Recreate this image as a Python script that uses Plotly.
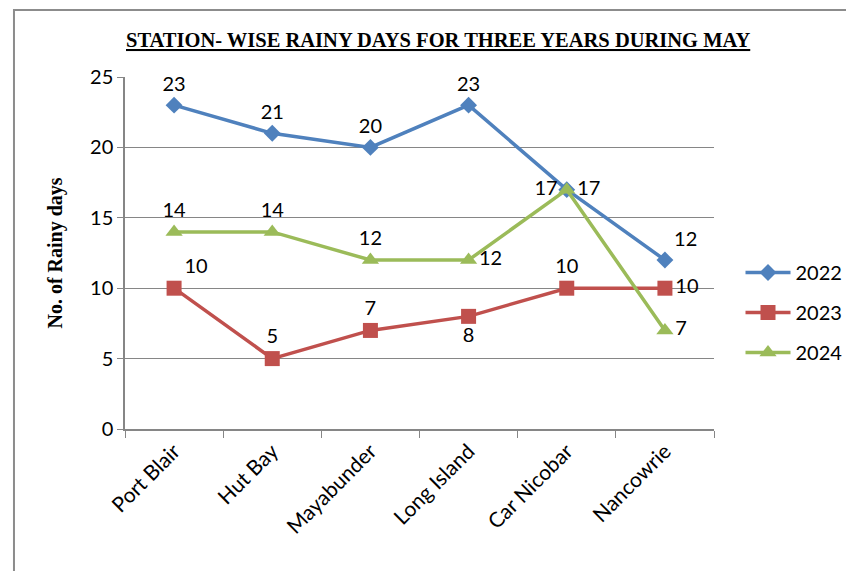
import plotly.graph_objects as go

stations = ["Port Blair", "Hut Bay", "Mayabunder", "Long Island", "Car Nicobar", "Nancowrie"]
years = ["2022", "2023", "2024"]
days_2022 = [23, 21, 20, 23, 17, 12]
days_2023 = [10, 5, 7, 8, 10, 10]
days_2024 = [14, 14, 12, 12, 17, 7]

pos_2022 = ["top center", "top center", "top center", "top center", "middle left", "top right"]
pos_2023 = ["top right", "top center", "top center", "bottom center", "top center", "middle right"]
pos_2024 = ["top center", "top center", "top center", "middle right", "middle right", "middle right"]

colors = ["#4F81BD", "#C0504D", "#9BBB59"]
symbols = ["diamond", "square", "triangle-up"]
sizes = [13, 15, 15]

SANS = "Lato"
SERIF = "Liberation Serif"

fig = go.Figure()
for name, vals, pos, col, sym, sz in zip(
    years, [days_2022, days_2023, days_2024], [pos_2022, pos_2023, pos_2024],
    colors, symbols, sizes
):
    fig.add_trace(go.Scatter(
        x=stations, y=vals, name=name, legendgroup=name,
        mode="lines+markers+text",
        text=[str(v) for v in vals], textposition=pos,
        textfont=dict(family=SANS, size=20, color="#000000"),
        line=dict(color=col, width=3.5),
        marker=dict(symbol=sym, size=sz, color=col),
        cliponaxis=False,
    ))

fig.update_layout(
    width=846, height=571,
    margin=dict(l=125, r=132, t=77, b=142, autoexpand=False),
    paper_bgcolor="white", plot_bgcolor="white",
    showlegend=True,
    legend=dict(
        x=1.045, y=0.50, xanchor="left", yanchor="top",
        font=dict(family=SANS, size=20, color="#000000"),
        tracegroupgap=11, itemwidth=45, bgcolor="rgba(0,0,0,0)",
    ),
    xaxis=dict(
        type="category", tickangle=-45, automargin=False,
        tickfont=dict(family=SANS, size=21, color="#000000"),
        showgrid=False, showline=True, linecolor="#868686", linewidth=1.5,
        ticks="outside", tickson="boundaries", ticklen=7, tickcolor="#868686",
        range=[-0.5, 5.5],
    ),
    yaxis=dict(
        range=[0, 25], dtick=5, automargin=False,
        tickfont=dict(family=SANS, size=20, color="#000000"),
        showgrid=True, gridcolor="#868686", gridwidth=1.2,
        showline=True, linecolor="#868686", linewidth=1.5,
        ticks="outside", ticklen=6, tickcolor="#868686",
        zeroline=False,
        title=dict(text="<b>No. of Rainy days</b>",
                   font=dict(family=SERIF, size=20, color="#000000"),
                   standoff=22),
    ),
    annotations=[dict(
        text="<b><u>STATION- WISE RAINY DAYS FOR THREE YEARS DURING MAY</u></b>",
        xref="paper", yref="paper", x=0.532, y=1.105,
        xanchor="center", yanchor="middle", showarrow=False,
        font=dict(family=SERIF, size=20.5, color="#000000"),
    )],
    shapes=[dict(
        type="rect", xref="paper", yref="paper",
        x0=-0.1885, x1=1.3, y0=-0.5, y1=1.19,
        line=dict(color="#8c8c8c", width=2), fillcolor="rgba(0,0,0,0)",
        layer="below",
    )],
)

fig.write_html("out.html")
